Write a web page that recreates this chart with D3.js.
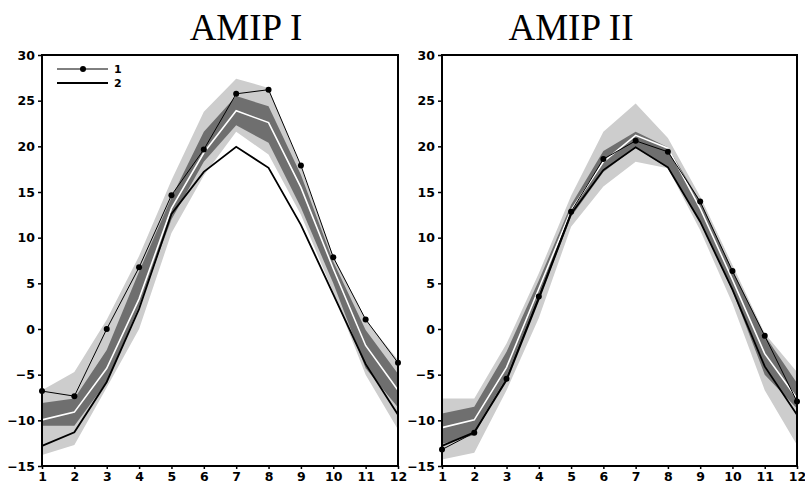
<!DOCTYPE html>
<html lang="en">
<head>
<meta charset="UTF-8">
<title>AMIP I / AMIP II</title>
<script src="https://d3js.org/d3.v7.min.js"></script>
<style>
  body { margin: 0; background: #fff; }
  .tick text { font-family: "DejaVu Sans", Arial, sans-serif; font-weight: bold; font-size: 12.5px; fill: #000; }
  .title { font-family: "Liberation Serif", "Times New Roman", serif; font-size: 37px; }
</style>
</head>
<body>
<div id="chart"></div>
<script>
// months on the x axis
var months = [1, 2, 3, 4, 5, 6, 7, 8, 9, 10, 11, 12];
var yTicks = [-15, -10, -5, 0, 5, 10, 15, 20, 25, 30];

// AMIP I
var amip1_line1 = [-6.8, -7.35, 0.0, 6.75, 14.65, 19.65, 25.75, 26.2, 17.9, 7.85, 1.05, -3.7];
var amip1_line2 = [-12.8, -11.3, -5.8, 2.2, 12.6, 17.2, 19.95, 17.65, 11.4, 3.8, -3.85, -9.4];
var amip1_mean  = [-9.95, -9.1, -4.3, 3.3, 13.2, 19.3, 23.9, 22.6, 15.5, 6.6, -1.8, -6.7];
var amip1_darkHi  = [-8.1, -7.6, -2.3, 6.3, 14.4, 21.6, 25.5, 24.4, 16.9, 7.4, -0.1, -4.9];
var amip1_darkLo  = [-10.6, -10.6, -5.8, 2.5, 12.0, 18.3, 22.3, 20.4, 13.3, 5.0, -4.3, -8.6];
var amip1_lightHi = [-6.7, -4.7, 1.0, 8.0, 16.3, 23.8, 27.4, 26.4, 17.7, 8.0, 1.0, -3.4];
var amip1_lightLo = [-13.8, -12.7, -6.4, 0.0, 10.5, 16.8, 21.6, 19.1, 12.5, 4.0, -5.0, -11.0];

// AMIP II
var amip2_line1 = [-13.2, -11.35, -5.45, 3.55, 12.85, 18.6, 20.6, 19.4, 13.95, 6.35, -0.75, -7.95];
var amip2_line2 = [-12.8, -11.3, -5.6, 3.3, 12.6, 17.4, 19.9, 17.7, 11.75, 4.3, -4.1, -9.4];
var amip2_mean  = [-10.8, -9.95, -4.2, 4.4, 13.0, 18.3, 21.2, 19.8, 13.2, 5.4, -2.7, -7.6];
var amip2_darkHi  = [-9.25, -8.5, -2.5, 5.3, 13.6, 19.5, 21.6, 19.9, 14.0, 6.4, -0.7, -5.9];
var amip2_darkLo  = [-12.6, -11.6, -5.4, 3.2, 12.3, 17.2, 19.9, 17.6, 11.8, 4.2, -5.0, -8.7];
var amip2_lightHi = [-7.6, -7.6, -1.6, 6.1, 14.6, 21.6, 24.7, 20.9, 14.5, 7.0, -0.5, -4.7];
var amip2_lightLo = [-14.3, -13.55, -6.7, 1.2, 11.2, 15.6, 18.3, 17.6, 10.8, 2.8, -6.7, -12.7];

var width = 805, height = 484;
var plotTop = 55, plotBottom = 466;

var panels = [
  { title: "AMIP I", titleX: 246, x0: 42, x1: 398, legend: true,
    line1: amip1_line1, line2: amip1_line2, mean: amip1_mean,
    darkHi: amip1_darkHi, darkLo: amip1_darkLo, lightHi: amip1_lightHi, lightLo: amip1_lightLo },
  { title: "AMIP II", titleX: 571, x0: 442, x1: 797, legend: false,
    line1: amip2_line1, line2: amip2_line2, mean: amip2_mean,
    darkHi: amip2_darkHi, darkLo: amip2_darkLo, lightHi: amip2_lightHi, lightLo: amip2_lightLo }
];

var svg = d3.select("#chart").append("svg")
  .attr("width", width)
  .attr("height", height);

var y = d3.scaleLinear().domain([-15, 30]).range([plotBottom, plotTop]);

panels.forEach(function(p) {
  var x = d3.scaleLinear().domain([1, 12]).range([p.x0, p.x1]);
  var g = svg.append("g");

  var band = function(hi, lo) {
    return d3.area()
      .x(function(d, i) { return x(months[i]); })
      .y0(function(d, i) { return y(lo[i]); })
      .y1(function(d, i) { return y(hi[i]); })(months);
  };
  var line = d3.line()
    .x(function(d, i) { return x(months[i]); })
    .y(function(d) { return y(d); });

  g.append("path").attr("d", band(p.lightHi, p.lightLo)).attr("fill", "#cdcdcd");
  g.append("path").attr("d", band(p.darkHi, p.darkLo)).attr("fill", "#6f6f6f");

  g.append("path").attr("d", line(p.mean))
    .attr("fill", "none").attr("stroke", "#fff").attr("stroke-width", 1.6);
  g.append("path").attr("d", line(p.line2))
    .attr("fill", "none").attr("stroke", "#000").attr("stroke-width", 1.8);
  g.append("path").attr("d", line(p.line1))
    .attr("fill", "none").attr("stroke", "#000").attr("stroke-width", 1);
  g.selectAll("circle.dot").data(p.line1).enter().append("circle")
    .attr("class", "dot")
    .attr("cx", function(d, i) { return x(months[i]); })
    .attr("cy", function(d) { return y(d); })
    .attr("r", 3).attr("fill", "#000");

  // frame
  g.append("rect")
    .attr("x", p.x0).attr("y", plotTop)
    .attr("width", p.x1 - p.x0).attr("height", plotBottom - plotTop)
    .attr("fill", "none").attr("stroke", "#000").attr("stroke-width", 2);

  var yAxis = g.append("g")
    .attr("transform", "translate(" + p.x0 + ",0)")
    .call(d3.axisLeft(y).tickValues(yTicks).tickSize(4).tickPadding(3));
  yAxis.select(".domain").remove();
  yAxis.selectAll(".tick line").attr("stroke-width", 1.5);

  var xAxis = g.append("g")
    .attr("transform", "translate(0," + plotBottom + ")")
    .call(d3.axisBottom(x).tickValues(months).tickSize(3).tickPadding(3).tickFormat(d3.format("d")));
  xAxis.select(".domain").remove();
  xAxis.selectAll(".tick line").attr("stroke-width", 1.5);

  svg.append("text").attr("class", "title")
    .attr("x", p.titleX).attr("y", 40)
    .attr("text-anchor", "middle")
    .text(p.title);

  if (p.legend) {
    var lg = g.append("g").attr("font-family", "DejaVu Sans, Arial, sans-serif")
      .attr("font-size", 11).attr("font-weight", "bold");
    lg.append("line").attr("x1", 57).attr("x2", 108).attr("y1", 69).attr("y2", 69)
      .attr("stroke", "#000").attr("stroke-width", 1);
    lg.append("circle").attr("cx", 83).attr("cy", 69).attr("r", 3).attr("fill", "#000");
    lg.append("text").attr("x", 114).attr("y", 73).text("1");
    lg.append("line").attr("x1", 57).attr("x2", 108).attr("y1", 83).attr("y2", 83)
      .attr("stroke", "#000").attr("stroke-width", 1.8);
    lg.append("text").attr("x", 114).attr("y", 87).text("2");
  }
});
</script>
</body>
</html>
